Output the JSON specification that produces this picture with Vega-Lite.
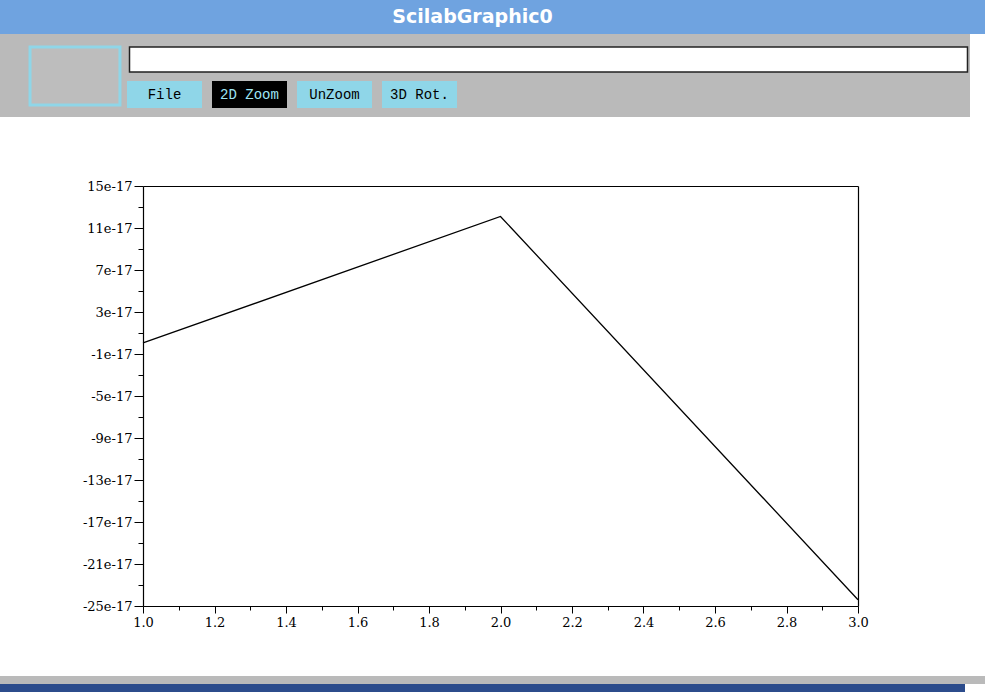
{
  "$schema": "https://vega.github.io/schema/vega-lite/v6.json",
  "background": "white",
  "padding": 0,
  "spacing": 0,
  "config": {"view": {"stroke": null}},
  "vconcat": [
    {
      "width": 985, "height": 34,
      "view": {"fill": "#6fa3e0", "stroke": null},
      "data": {"values": [{"label": "ScilabGraphic0"}]},
      "mark": {"type": "text", "color": "white", "font": "DejaVu Sans", "fontWeight": "bold", "fontSize": 19, "dx": -20},
      "encoding": {"text": {"field": "label", "type": "nominal"}}
    },
    {
      "spacing": 0,
      "hconcat": [
        {
          "width": 127, "height": 83,
          "view": {"fill": "#bababa", "stroke": null},
          "data": {"values": [{"part": "icon"}]},
          "mark": {"type": "rect", "fill": "#bdbdbd", "stroke": "#8fd6e8", "strokeWidth": 3},
          "encoding": {
            "x": {"field": "part", "type": "nominal", "axis": null, "scale": {"paddingOuter": 0.206, "align": 0.81}},
            "y": {"field": "part", "type": "nominal", "axis": null, "scale": {"paddingOuter": 0.2155, "align": 0.52}}
          }
        },
        {
          "spacing": 0,
          "vconcat": [
            {
              "width": 843, "height": 47,
              "view": {"fill": "#bababa", "stroke": null},
              "data": {"values": [{"part": "input"}]},
              "mark": {"type": "rect", "fill": "white", "stroke": "#222222", "strokeWidth": 1.5},
              "encoding": {
                "x": {"field": "part", "type": "nominal", "axis": null, "scale": {"paddingOuter": 0.003}},
                "y": {"field": "part", "type": "nominal", "axis": null, "scale": {"paddingOuter": 0.44, "align": 0.59}}
              }
            },
            {
              "spacing": 0,
              "hconcat": [
                {
                  "width": 330, "height": 27,
                  "view": {"fill": "#bababa", "stroke": null},
                  "data": {"values": [{"button": "File"}, {"button": "2D Zoom"}, {"button": "UnZoom"}, {"button": "3D Rot."}]},
                  "encoding": {
                    "x": {"field": "button", "type": "nominal", "sort": null, "axis": null,
                          "scale": {"paddingInner": 0.1176, "paddingOuter": 0}}
                  },
                  "layer": [
                    {
                      "mark": {"type": "rect"},
                      "encoding": {
                        "color": {"condition": {"test": "datum.button === '2D Zoom'", "value": "#000000"}, "value": "#8fd6e8"}
                      }
                    },
                    {
                      "mark": {"type": "text", "font": "Liberation Mono", "fontSize": 14},
                      "encoding": {
                        "text": {"field": "button", "type": "nominal"},
                        "color": {"condition": {"test": "datum.button === '2D Zoom'", "value": "#9fe6f5"}, "value": "#000000"}
                      }
                    }
                  ]
                },
                {
                  "width": 513, "height": 27,
                  "data": {"values": [{}]},
                  "mark": {"type": "rect", "fill": "#bababa"},
                  "encoding": {}
                }
              ]
            },
            {
              "width": 843, "height": 9,
              "data": {"values": [{}]},
              "mark": {"type": "rect", "fill": "#bababa"},
              "encoding": {}
            }
          ]
        }
      ]
    },
    {
      "width": 970, "height": 63,
      "data": {"values": [{}]},
      "mark": {"type": "rect", "fill": "white"},
      "encoding": {}
    },
    {
      "width": 858, "height": 420,
      "data": {"values": [
        {"x": 1, "y": 5e-19},
        {"x": 2, "y": 1.21e-16},
        {"x": 3, "y": -2.44e-16}
      ]},
      "layer": [
        {
          "mark": {"type": "line", "color": "black", "strokeWidth": 1.3},
          "encoding": {
            "x": {"field": "x", "type": "quantitative",
                  "scale": {"domain": [1, 3], "range": [143, 858], "nice": false, "zero": false},
                  "axis": {"orient": "bottom", "title": null, "grid": false,
                           "values": [1, 1.2, 1.4, 1.6, 1.8, 2, 2.2, 2.4, 2.6, 2.8, 3],
                           "format": ".1f", "tickSize": 7, "tickColor": "black", "domainColor": "black", "domainWidth": 1.2,
                           "labelColor": "black", "labelFont": "DejaVu Serif", "labelFontSize": 13,
                           "labelPadding": 3, "labelFlush": false, "labelOverlap": false}},
            "y": {"field": "y", "type": "quantitative",
                  "scale": {"domain": [-2.5e-16, 1.5e-16], "nice": false, "zero": false},
                  "axis": {"orient": "left", "offset": -143, "title": null, "grid": false,
                           "values": [-2.5e-16, -2.1e-16, -1.7e-16, -1.3e-16, -9e-17, -5e-17, -1e-17, 3e-17, 7e-17, 1.1e-16, 1.5e-16],
                           "labelExpr": "round(datum.value * 1e17) + 'e-17'",
                           "tickSize": 9, "tickColor": "black", "domainColor": "black", "domainWidth": 1.2,
                           "labelColor": "black", "labelFont": "DejaVu Serif", "labelFontSize": 13,
                           "labelPadding": 2, "labelFlush": false, "labelOverlap": false}}
          }
        },
        {
          "mark": {"type": "line", "opacity": 0},
          "encoding": {
            "x": {"field": "x", "type": "quantitative",
                  "axis": {"orient": "bottom", "title": null, "grid": false, "labels": false, "domain": false,
                           "values": [1.1, 1.3, 1.5, 1.7, 1.9, 2.1, 2.3, 2.5, 2.7, 2.9],
                           "tickSize": 4, "tickColor": "black"}},
            "y": {"field": "y", "type": "quantitative",
                  "axis": {"orient": "left", "offset": -143, "title": null, "grid": false, "labels": false, "domain": false,
                           "values": [-2.3e-16, -1.9e-16, -1.5e-16, -1.1e-16, -7e-17, -3e-17, 1e-17, 5e-17, 9e-17, 1.3e-16],
                           "tickSize": 5, "tickColor": "black"}}
          }
        },
        {
          "mark": {"type": "line", "opacity": 0},
          "encoding": {
            "x": {"field": "x", "type": "quantitative",
                  "axis": {"orient": "top", "title": null, "grid": false, "labels": false, "ticks": false,
                           "domainColor": "black", "domainWidth": 1.2}},
            "y": {"field": "y", "type": "quantitative",
                  "axis": {"orient": "right", "title": null, "grid": false, "labels": false, "ticks": false,
                           "domainColor": "black", "domainWidth": 1.2}}
          }
        }
      ],
      "resolve": {"axis": {"x": "independent", "y": "independent"}}
    },
    {
      "width": 970, "height": 47,
      "data": {"values": [{}]},
      "mark": {"type": "rect", "fill": "white"},
      "encoding": {}
    },
    {
      "width": 985, "height": 8,
      "data": {"values": [{}]},
      "mark": {"type": "rect", "fill": "#bababa"},
      "encoding": {}
    },
    {
      "width": 965, "height": 8,
      "data": {"values": [{}]},
      "mark": {"type": "rect", "fill": "#2c4c8c"},
      "encoding": {}
    }
  ]
}
